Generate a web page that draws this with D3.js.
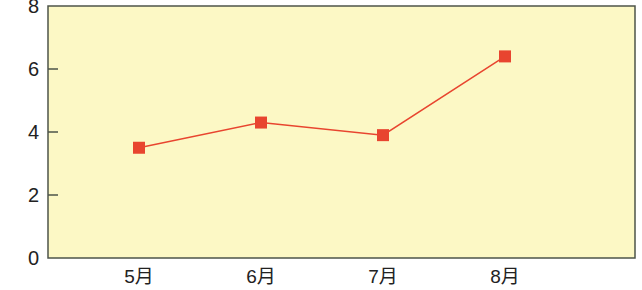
<!DOCTYPE html>
<html>
<head>
<meta charset="utf-8">
<script src="https://cdn.jsdelivr.net/npm/d3@7"></script>
<style>
  body { margin: 0; background: #fff; }
</style>
</head>
<body>
<div id="chart"></div>
<script>
const months = ["5月", "6月", "7月", "8月"];
const values = [3.5, 4.3, 3.9, 6.4];
const yTicks = [0, 2, 4, 6, 8];

const width = 642;
const height = 290;
const margin = { top: 6, right: 7, bottom: 32, left: 48 };
const innerW = width - margin.left - margin.right;
const innerH = height - margin.top - margin.bottom;

const data = months.map((m, i) => ({ month: m, value: values[i] }));

const x = d3.scalePoint()
    .domain(months)
    .range([91, 91 + 366]);

const y = d3.scaleLinear()
    .domain([0, 8])
    .range([innerH, 0]);

const svg = d3.select("#chart").append("svg")
    .attr("width", width)
    .attr("height", height)
    .style("font-family", "'Liberation Sans', 'Noto Sans CJK JP', sans-serif");

const g = svg.append("g")
    .attr("transform", `translate(${margin.left},${margin.top})`);

// plot background + frame
g.append("rect")
    .attr("width", innerW)
    .attr("height", innerH)
    .attr("fill", "#fcf8c5")
    .attr("stroke", "#4d5449")
    .attr("stroke-width", 1.5);

// y ticks (inward) and labels
g.selectAll(".ytick")
    .data(yTicks.filter(t => t > 0 && t < 8))
    .join("line")
    .attr("x1", 0)
    .attr("x2", 10)
    .attr("y1", d => y(d))
    .attr("y2", d => y(d))
    .attr("stroke", "#4d5449")
    .attr("stroke-width", 1.5);

g.selectAll(".ylabel")
    .data(yTicks)
    .join("text")
    .attr("x", -9)
    .attr("y", d => y(d))
    .attr("dy", "0.36em")
    .attr("text-anchor", "end")
    .attr("font-size", 20)
    .attr("fill", "#222")
    .text(d => d);

// x labels
g.selectAll(".xlabel")
    .data(months)
    .join("text")
    .attr("x", d => x(d))
    .attr("y", innerH + 25)
    .attr("text-anchor", "middle")
    .attr("font-size", 19)
    .attr("fill", "#222")
    .text(d => d);

// line
const line = d3.line()
    .x(d => x(d.month))
    .y(d => y(d.value));

g.append("path")
    .datum(data)
    .attr("d", line)
    .attr("fill", "none")
    .attr("stroke", "#e8452f")
    .attr("stroke-width", 1.5);

// square markers
g.selectAll(".pt")
    .data(data)
    .join("rect")
    .attr("x", d => x(d.month) - 6)
    .attr("y", d => y(d.value) - 6)
    .attr("width", 12)
    .attr("height", 12)
    .attr("fill", "#e8452f");
</script>
</body>
</html>
